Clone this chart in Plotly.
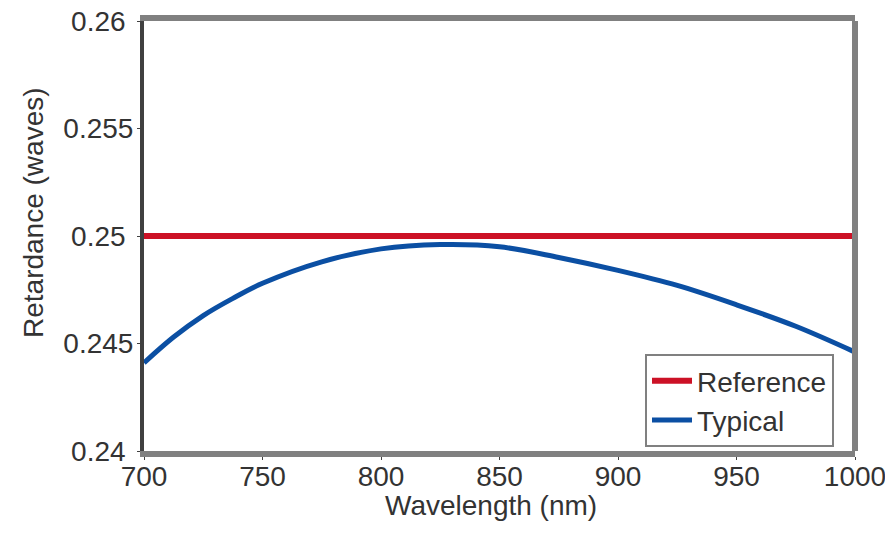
import plotly.graph_objects as go

# ---- data ----
wavelength_nm = [700, 712.5, 725, 737.5, 750, 775, 800, 825, 850, 875, 900, 925, 950, 975, 1000]
typical_waves = [0.2441, 0.2453, 0.2463, 0.2471, 0.2478, 0.2488, 0.2494, 0.2496, 0.2495,
                 0.2490, 0.2484, 0.2477, 0.2468, 0.2458, 0.2446]
reference_wavelength = [700, 1000]
reference_waves = [0.25, 0.25]

x_tick_vals = [700, 750, 800, 850, 900, 950, 1000]
x_tick_text = ["700", "750", "800", "850", "900", "950", "1000"]
y_tick_vals = [0.24, 0.245, 0.25, 0.255, 0.26]
y_tick_text = ["0.24\u00a0", "0.245", "0.25\u00a0", "0.255", "0.26\u00a0"]

FONT = "Liberation Sans, Arial, sans-serif"
TXT = "#333333"
FS = 28
OFF = 8  # page body margin of the html page

# plot area in window pixels: x 144..855, y 21..451
L, R, T, B = 144 - OFF, 893 - (855 - OFF), 21 - OFF, 534 - (451 - OFF)

fig = go.Figure()
fig.add_trace(go.Scatter(x=reference_wavelength, y=reference_waves, mode="lines",
                         name="Reference", line=dict(color="#cc1126", width=6)))
fig.add_trace(go.Scatter(x=wavelength_nm, y=typical_waves, mode="lines",
                         name="Typical", line=dict(color="#0b4fa3", width=5, shape="spline")))

fig.update_layout(
    width=893, height=534,
    margin=dict(l=L, r=R, t=T, b=B),
    paper_bgcolor="white", plot_bgcolor="white",
    font=dict(family=FONT, size=FS, color=TXT),
    showlegend=True,
    legend=dict(
        x=(645 - 144) / 711, y=(451 - 354) / 430, xanchor="left", yanchor="top",
        bgcolor="white", bordercolor="#808080", borderwidth=2,
        font=dict(family=FONT, size=FS, color=TXT),
        itemwidth=40, tracegroupgap=0,
    ),
    xaxis=dict(
        range=[700, 1000], tickvals=x_tick_vals, ticktext=x_tick_text,
        showgrid=False, zeroline=False, automargin=False,
        showline=True, linecolor="#808080", linewidth=6, mirror=True,
        ticks="outside", ticklen=3, tickcolor="#404040",
        ticklabelstandoff=-8, ticklabeloverflow="allow",
        tickfont=dict(family=FONT, size=FS, color=TXT),
    ),
    yaxis=dict(
        range=[0.24, 0.26], tickvals=y_tick_vals, ticktext=y_tick_text,
        showgrid=False, zeroline=False, automargin=False,
        showline=True, linecolor="#404040", linewidth=4,
        ticks="outside", ticklen=3, tickcolor="#404040",
        ticklabelstandoff=-2, ticklabeloverflow="allow",
        tickfont=dict(family=FONT, size=FS, color=TXT),
    ),
    shapes=[dict(type="line", xref="x domain", yref="y domain", x0=1, x1=1, y0=0, y1=1,
                 line=dict(color="#808080", width=6), layer="above")],
    annotations=[
        dict(text="Wavelength (nm)", xref="paper", yref="paper", x=(491 - 144) / 711,
             y=-(505 - 451) / 430, xanchor="center", yanchor="middle", showarrow=False,
             font=dict(family=FONT, size=FS, color=TXT)),
        dict(text="Retardance (waves)", xref="paper", yref="paper", x=-(144 - 33) / 711,
             y=(451 - 213) / 430, xanchor="center", yanchor="middle", textangle=-90,
             showarrow=False, font=dict(family=FONT, size=FS, color=TXT)),
    ],
)

fig.write_html("out.html")
